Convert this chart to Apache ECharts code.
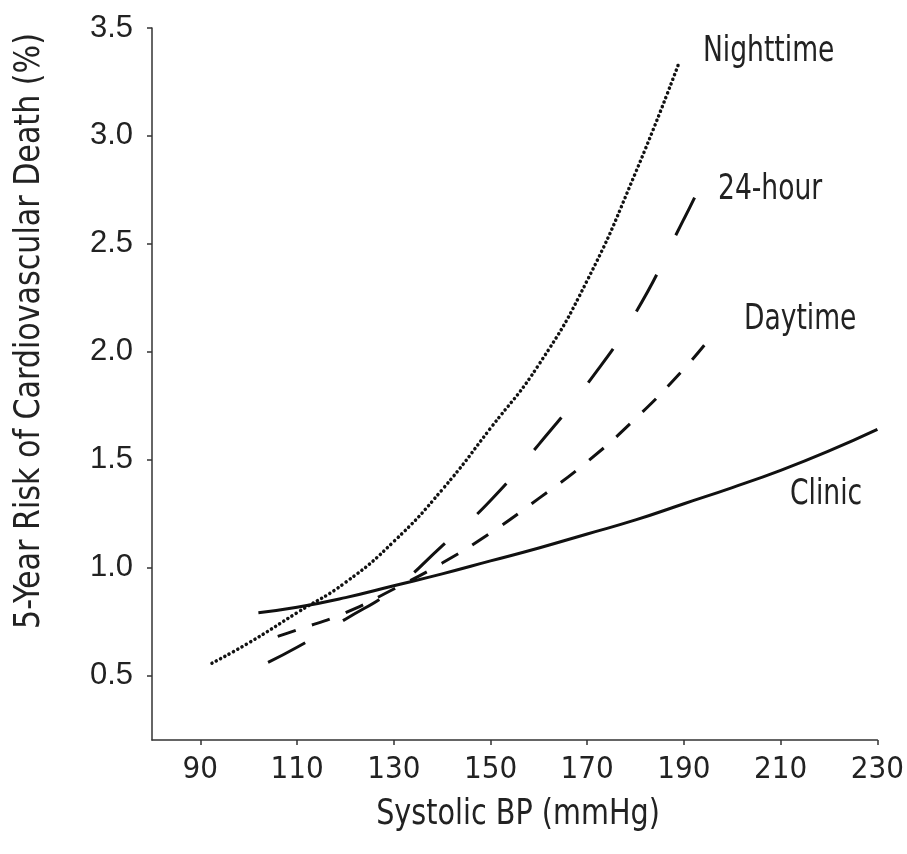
<!DOCTYPE html>
<html>
<head>
<meta charset="utf-8">
<script src="https://cdn.jsdelivr.net/npm/echarts@6/dist/echarts.min.js"></script>
<style>
html,body{margin:0;padding:0;background:#fff;}
#c{width:907px;height:854px;}
</style>
</head>
<body>
<div id="c"></div>
<script>
// Data (systolic BP mmHg, 5-year risk %)
const clinic = [[102,0.79],[110,0.815],[120,0.86],[130,0.915],[140,0.97],[150,1.03],[160,1.09],[170,1.155],[180,1.22],[190,1.295],[200,1.37],[210,1.45],[220,1.54],[230,1.64]];
const nighttime = [[92.4,0.556],[100,0.65],[110,0.79],[120,0.93],[130,1.12],[140,1.36],[150,1.645],[160,1.94],[170,2.33],[180,2.83],[189,3.34]];
const hour24 = [[104,0.56],[110,0.63],[120,0.76],[130,0.90],[140,1.10],[150,1.31],[160,1.57],[170,1.85],[180,2.18],[190,2.615],[192.2,2.714]];
const daytime = [[106,0.68],[110,0.71],[120,0.79],[130,0.90],[140,1.02],[150,1.16],[160,1.32],[170,1.49],[180,1.69],[190,1.92],[196,2.08]];
const xTicks = [90,110,130,150,170,190,210,230];
const yTicks = [0.5,1.0,1.5,2.0,2.5,3.0,3.5];
const seriesNames = ['Clinic','Nighttime','24-hour','Daytime'];
const labelTexts = ['Nighttime','24-hour','Daytime','Clinic'];
const xTitle = 'Systolic BP (mmHg)';
const yTitle = '5-Year Risk of Cardiovascular Death (%)';

const NARROW = '"Liberation Sans Narrow","Arial Narrow","DejaVu Sans Condensed",sans-serif';
const chart = echarts.init(document.getElementById('c'));
const axisColor = '#333';
const txt = '#222';
function ann(text, x, y, sx){
  return {type:'text',x:x,y:y,scaleX:sx,style:{text:text,font:'36px '+NARROW,fill:txt,verticalAlign:'middle'}};
}
chart.setOption({
  backgroundColor:'#fff',
  animation:false,
  grid:{left:152,right:29,top:28,bottom:114},
  xAxis:{
    type:'value',min:80,max:230,
    axisLine:{lineStyle:{color:axisColor,width:1.5}},
    axisTick:{show:true,length:5,customValues:xTicks,lineStyle:{color:axisColor,width:1.5}},
    axisLabel:{customValues:xTicks,color:txt,fontSize:31,fontFamily:NARROW,margin:14},
    splitLine:{show:false}
  },
  yAxis:{
    type:'value',min:0.2,max:3.5,
    axisLine:{show:true,lineStyle:{color:axisColor,width:1.5}},
    axisTick:{show:true,length:5,customValues:yTicks,lineStyle:{color:axisColor,width:1.5}},
    axisLabel:{customValues:yTicks,color:txt,fontSize:31,fontFamily:'"Liberation Sans",Arial,sans-serif',margin:19,
      formatter:v=>v.toFixed(1)},
    splitLine:{show:false}
  },
  graphic:[
    {type:'text',x:30,y:331,rotation:Math.PI/2,scaleX:0.93,style:{text:yTitle,font:'36px '+NARROW,fill:txt,align:'center',verticalAlign:'middle'}},
    {type:'text',x:518,y:815,scaleX:0.885,style:{text:xTitle,font:'36px '+NARROW,fill:txt,align:'center',verticalAlign:'middle'}},
    ann(labelTexts[0],703,52,0.82),
    ann(labelTexts[1],718,190,0.82),
    ann(labelTexts[2],744,320,0.82),
    ann(labelTexts[3],790,495,0.82)
  ],
  series:[
    {name:seriesNames[0],type:'line',data:clinic,smooth:true,showSymbol:false,
      lineStyle:{color:'#111',width:3,type:'solid'}},
    {name:seriesNames[1],type:'line',data:nighttime,smooth:true,showSymbol:false,
      lineStyle:{color:'#111',width:3.5,type:[0.1,4.8],cap:'round'}},
    {name:seriesNames[2],type:'line',data:hour24,smooth:true,showSymbol:false,
      lineStyle:{color:'#111',width:3,type:[42,44]}},
    {name:seriesNames[3],type:'line',data:daytime,smooth:true,showSymbol:false,
      lineStyle:{color:'#111',width:3,type:[19,17]}}
  ]
});
</script>
</body>
</html>
